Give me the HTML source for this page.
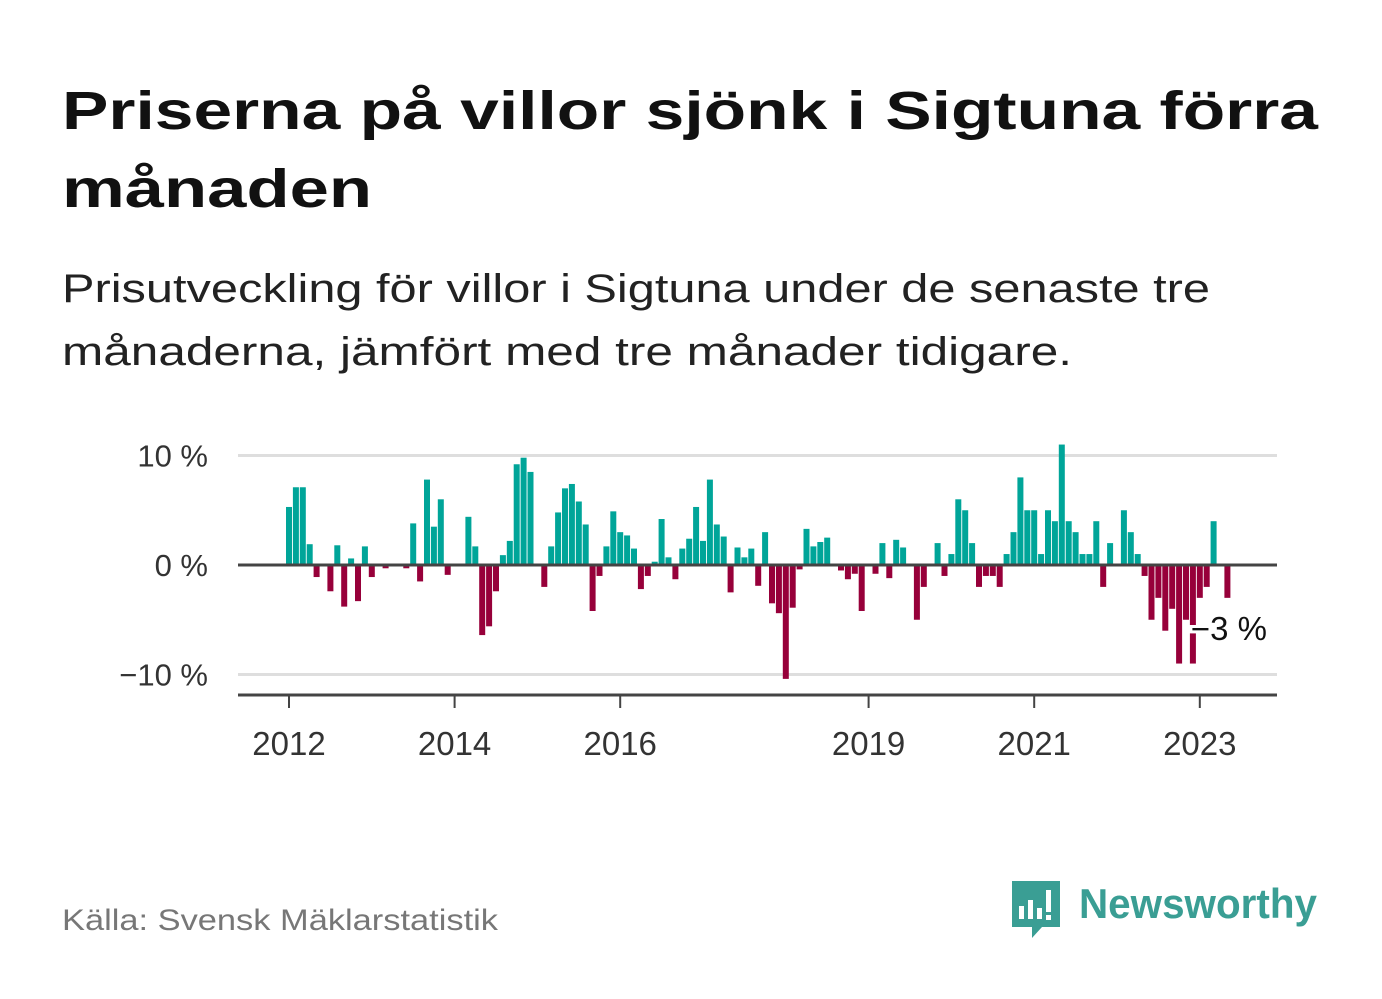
<!DOCTYPE html>
<html><head><meta charset="utf-8">
<style>
html,body{margin:0;padding:0;background:#fff;}
svg{display:block;font-family:"Liberation Sans","DejaVu Sans",sans-serif;}
</style></head>
<body>
<svg id="chart" width="1382" height="999" viewBox="0 0 1382 999" xmlns="http://www.w3.org/2000/svg">
<text x="62" y="129" font-size="54" font-weight="bold" fill="#111" textLength="1256" lengthAdjust="spacingAndGlyphs">Priserna på villor sjönk i Sigtuna förra</text>
<text x="62" y="207" font-size="54" font-weight="bold" fill="#111" textLength="310" lengthAdjust="spacingAndGlyphs">månaden</text>
<text x="62" y="302" font-size="40" fill="#222" textLength="1148" lengthAdjust="spacingAndGlyphs">Prisutveckling för villor i Sigtuna under de senaste tre</text>
<text x="62" y="365" font-size="40" fill="#222" textLength="1010" lengthAdjust="spacingAndGlyphs">månaderna, jämfört med tre månader tidigare.</text>
<g id="grid"></g>
<g id="bars"></g>
<g id="axes"></g>
<text x="62" y="930" font-size="30" fill="#777" textLength="436" lengthAdjust="spacingAndGlyphs">Källa: Svensk Mäklarstatistik</text>
<g>
<path d="M1012 881 h48 v46 h-18 l-10 11 v-11 h-20 z" fill="#3a9e94"/>
<rect x="1019" y="906" width="5" height="13" fill="#fff"/>
<rect x="1028" y="900" width="5" height="19" fill="#fff"/>
<rect x="1037" y="908" width="5" height="11" fill="#fff"/>
<rect x="1046" y="890" width="5" height="22" fill="#fff"/>
<rect x="1046" y="915" width="5" height="5" fill="#fff"/>
<text x="1079" y="918" font-size="42" font-weight="bold" fill="#3a9e94" textLength="238" lengthAdjust="spacingAndGlyphs">Newsworthy</text>
</g>
</svg>
<script>
const values = [5.3,7.1,7.1,1.9,-1.1,0,-2.4,1.8,-3.8,0.6,-3.3,1.7,
-1.1,0,-0.3,0,0,-0.3,3.8,-1.5,7.8,3.5,6.0,-0.9,
0,0,4.4,1.7,-6.4,-5.6,-2.4,0.9,2.2,9.2,9.8,8.5,
0,-2.0,1.7,4.8,7.0,7.4,5.8,3.7,-4.2,-1.0,1.7,4.9,
3.0,2.7,1.5,-2.2,-1.0,0.3,4.2,0.7,-1.3,1.5,2.4,5.3,
2.2,7.8,3.7,2.6,-2.5,1.6,0.7,1.5,-1.9,3.0,-3.5,-4.4,
-10.4,-3.9,-0.4,3.3,1.7,2.1,2.5,0,-0.5,-1.3,-0.8,-4.2,
0,-0.8,2.0,-1.2,2.3,1.6,0,-5.0,-2.0,0,2.0,-1.0,
1.0,6.0,5.0,2.0,-2.0,-1.0,-1.0,-2.0,1.0,3.0,8.0,5.0,
5.0,1.0,5.0,4.0,11.0,4.0,3.0,1.0,1.0,4.0,-2.0,2.0,
0,5.0,3.0,1.0,-1.0,-5.0,-3.0,-6.0,-4.0,-9.0,-5.0,-9.0,
-3.0,-2.0,4.0,0,-3.0];
const yTicks = [10,0,-10];
const yTickLabels = ["10 %","0 %","−10 %"];
const xTickYears = [2012,2014,2016,2019,2021,2023];
const startYear = 2012;
const lastLabel = "−3 %";

const NS="http://www.w3.org/2000/svg";
const x0=286, step=6.9, bw=6;
const yZero=565, pxPer=10.95;
const xl=238, xr=1277;
function xScale(i){return x0+i*step;}
function yScale(v){return yZero - v*pxPer;}
function mk(tag,attrs,parent){const e=document.createElementNS(NS,tag);for(const k in attrs)e.setAttribute(k,attrs[k]);parent.appendChild(e);return e;}
const grid=document.getElementById('grid'), barsG=document.getElementById('bars'), axes=document.getElementById('axes');
yTicks.forEach((t,i)=>{
  if(t!==0){const l=mk('line',{x1:xl,x2:xr,y1:yScale(t),y2:yScale(t),stroke:'#dedede','stroke-width':3},grid);
  
  }
  const tx=mk('text',{x:208,y:yScale(t)+11,'font-size':31,fill:'#333','text-anchor':'end'},grid);
  tx.textContent=yTickLabels[i];
  
  
});
values.forEach((v,i)=>{
  if(v===0)return;
  const y=v>0?yScale(v):yZero;
  const r=mk('rect',{x:xScale(i),y:y,width:bw,height:Math.abs(v)*pxPer,fill:v>0?'#00a599':'#97003a'},barsG);
  
  
});
const zl=mk('line',{x1:xl,x2:xr,y1:yZero,y2:yZero,stroke:'#444','stroke-width':3},axes);


const ax=mk('line',{x1:xl,x2:xr,y1:695,y2:695,stroke:'#444','stroke-width':3},axes);


xTickYears.forEach(yr=>{
  const x=xScale((yr-startYear)*12)+3;
  const t=mk('line',{x1:x,x2:x,y1:695,y2:708,stroke:'#444','stroke-width':2},axes);
  
  
  const tx=mk('text',{x:x,y:755,'font-size':33,fill:'#333','text-anchor':'middle'},axes);
  tx.textContent=String(yr);
  
  
});
const li=values.length-1;
const lab=mk('text',{x:1267,y:yScale(values[li])+42,'font-size':33,fill:'#111','text-anchor':'end',stroke:'#fff','stroke-width':6,'paint-order':'stroke'},axes);
lab.textContent=lastLabel;


</script>
</body></html>
